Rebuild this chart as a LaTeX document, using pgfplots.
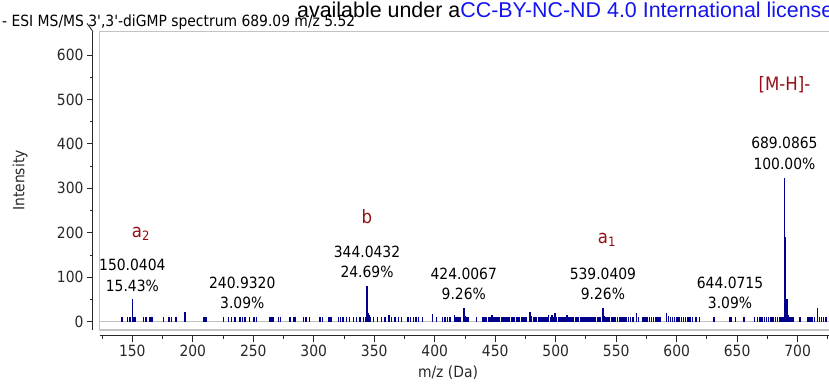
\documentclass[border=0pt]{standalone}
\usepackage{fontspec}
\setmainfont{DejaVu Sans Condensed}
\newfontfamily\arialfont{Liberation Sans}
\usepackage{pgfplots}
\usepackage{pgfplotstable}
\pgfplotsset{compat=1.18}

\definecolor{peak}{RGB}{0,0,140}
\definecolor{ann}{RGB}{150,15,20}
\definecolor{framegray}{RGB}{195,195,195}
\definecolor{ccblue}{RGB}{20,20,240}
\definecolor{axisdark}{RGB}{40,40,40}

\tikzset{
  lbl/.style={anchor=south, align=center, inner sep=0, yshift=8bp,
              font=\fontsize{15.5}{20.5}\selectfont},
  ann/.style={anchor=base, inner sep=0, text=ann,
              font=\fontsize{18.5}{20}\selectfont},
}

% centroided MS/MS peak list: m/z, intensity (counts)
\pgfplotstableread{
mz int
141.7 10
145.9 10
148.1 10
150.04 50
151.4 10
152.2 10
159.1 10
161.3 10
164.6 10
166.5 10
175.6 10
180.3 10
182.5 10
186.1 10
193.6 22
208.8 10
209.6 10
210.4 10
211.3 10
225.2 10
229.4 10
232.2 10
234.9 10
239.0 10
240.93 10
243.2 10
246.7 10
250.6 10
252.8 10
263.8 10
264.8 10
265.7 10
266.6 10
270.7 10
272.6 10
280.4 10
283.1 10
284.5 10
291.4 10
293.6 10
296.3 10
305.2 10
307.4 10
312.0 10
312.9 10
313.9 10
314.8 10
320.3 10
322.0 10
324.2 10
327.1 10
329.4 10
332.8 10
335.2 10
338.4 10
341.0 10
343.1 10
344.04 80
345.0 20
346.0 14
347.1 10
349.2 10
352.5 10
356.1 10
358.9 10
362.2 16
364.4 10
367.1 10
369.9 10
372.6 10
378.1 10
380.1 10
382.3 10
384.5 10
386.4 10
390.0 10
398.3 18
401.6 10
406.6 10
408.5 10
410.4 10
412.6 10
416.2 16
417.6 10
419.3 10
421.0 10
424.01 30
425.1 12
426.5 10
428.0 10
434.7 10
440.0 10
441.5 10
443.0 10
444.3 10
445.6 10
447.2 16
448.4 10
449.7 10
451.0 10
452.3 10
453.6 10
455.0 10
456.4 10
457.8 10
459.1 10
460.5 10
461.9 10
463.3 10
464.7 10
466.0 10
467.4 10
468.8 10
470.2 10
471.6 10
473.0 10
474.5 10
476.0 10
478.7 21
480.1 12
481.5 10
482.9 10
484.3 10
485.7 10
487.1 10
488.5 10
489.9 10
491.3 10
492.7 10
494.1 14
495.5 10
496.9 16
498.3 10
499.4 20
500.8 10
502.2 10
503.6 10
505.0 10
506.4 10
507.8 10
509.2 14
510.6 10
512.0 10
513.4 10
514.8 10
516.2 10
517.6 10
519.0 10
520.4 10
521.8 10
523.2 10
524.6 10
526.0 10
527.4 10
528.8 10
530.2 10
531.6 10
533.0 10
534.4 10
535.8 10
537.2 10
539.04 30
540.3 12
541.7 10
543.1 10
544.5 10
546.0 10
547.5 10
549.0 10
551.0 10
553.0 10
555.0 10
556.5 10
558.2 10
560.0 10
562.0 10
564.0 10
566.9 19
568.3 10
572.0 10
573.8 10
575.6 10
577.4 10
579.2 10
581.0 10
582.8 10
584.6 10
586.4 10
591.7 20
593.1 12
594.8 10
596.6 10
598.4 10
600.2 10
602.0 10
603.8 10
605.6 10
607.4 10
609.2 10
611.0 10
613.0 10
616.0 10
619.0 10
630.3 10
631.3 10
644.07 10
645.5 10
648.6 10
655.5 10
664.2 10
666.6 10
668.9 10
670.7 10
672.5 10
674.3 10
676.1 10
677.9 10
679.7 10
681.5 10
683.3 10
685.2 10
687.0 10
688.1 10
689.09 324
690.09 191
691.09 52
692.1 15
693.2 10
694.6 10
696.1 10
702.0 10
708.6 10
710.2 10
712.0 10
713.8 10
716.2 30
717.9 10
719.7 10
721.5 10
723.3 10
}\spectrum

\begin{document}
\begin{tikzpicture}[x=1bp,y=1bp]
\useasboundingbox (-99.5,-55) rectangle (729.5,330);

% header lines
\node[anchor=base west, inner sep=0, font=\fontsize{15.5}{18}\selectfont]
  at (-97.5,304) {- ESI MS/MS 3\textquotesingle,3\textquotesingle-diGMP spectrum 689.09 m/z 5.52};
\node[anchor=base west, inner sep=0, font=\arialfont\fontsize{21.5}{24}\selectfont]
  at (197.5,312.5) {available under a\textcolor{ccblue}{CC-BY-NC-ND 4.0 International license}};

% spectrum panel
\begin{axis}[
  at={(0,0)}, anchor=south west, scale only axis,
  width=740bp, height=298.3bp,
  xmin=122.9, xmax=734.6, ymin=-18.7, ymax=652.5,
  xtick=\empty, ytick=\empty,
  axis line style={framegray, line width=1.2bp},
  clip=false,
]
\draw[framegray, line width=1bp] (axis cs:122.9,0) -- (axis cs:734.6,0);
\addplot[ycomb, peak, line width=1.5bp, mark=none] table[x=mz, y=int] {\spectrum};

\node[lbl] at (axis cs:150.04,50)   {150.0404\\15.43\%};
\node[lbl] at (axis cs:240.93,10)   {240.9320\\3.09\%};
\node[lbl] at (axis cs:344.04,80)   {344.0432\\24.69\%};
\node[lbl] at (axis cs:424.01,30)   {424.0067\\9.26\%};
\node[lbl] at (axis cs:539.04,30)   {539.0409\\9.26\%};
\node[lbl] at (axis cs:644.07,10)   {644.0715\\3.09\%};
\node[lbl] at (axis cs:689.09,324)  {689.0865\\100.00\%};

\node[ann] at (axis cs:157.2,190.5) {a\textsubscript{2}};
\node[ann] at (axis cs:343.9,222)   {b};
\node[ann] at (axis cs:542.4,176.4) {a\textsubscript{1}};
\node[ann] at (axis cs:689.1,521)   {[M-H]-};
\end{axis}

% intensity axis, set off to the left of the panel
\begin{axis}[
  at={(-6.5bp,0)}, anchor=south west, scale only axis,
  width=10bp, height=298.3bp,
  xmin=0, xmax=1, ymin=-18.7, ymax=652.5,
  axis y line=left, axis x line=none,
  axis line style={-, axisdark, line width=1bp},
  ytick={0,100,...,600}, minor ytick={50,150,...,550},
  tick align=outside, major tick length=6bp, minor tick length=3.3bp,
  every tick/.style={axisdark, line width=0.9bp},
  yticklabel style={font=\fontsize{15.5}{18}\selectfont, text=axisdark},
  /pgf/number format/assume math mode=true,
  clip=false,
]
\draw[axisdark, line width=0.9bp] (rel axis cs:0,1) -- ++(-6bp,0);
\end{axis}

% m/z axis, set off below the panel
\begin{axis}[
  at={(0,-5bp)}, anchor=south west, scale only axis,
  width=740bp, height=10bp,
  xmin=122.9, xmax=734.6, ymin=0, ymax=1,
  axis x line=bottom, axis y line=none,
  axis line style={-, axisdark, line width=1bp},
  xtick={150,200,...,700}, minor xtick={125,175,...,725},
  tick align=outside, major tick length=7bp, minor tick length=4bp,
  every tick/.style={axisdark, line width=0.9bp},
  xticklabel style={font=\fontsize{15.5}{18}\selectfont, text=axisdark},
  /pgf/number format/assume math mode=true,
]
\end{axis}

\node[font=\fontsize{15.5}{18}\selectfont, text=axisdark] at (348.5,-43) {m/z (Da)};
\node[font=\fontsize{15.5}{18}\selectfont, text=axisdark, rotate=90] at (-79.5,149.5) {Intensity};
\end{tikzpicture}
\end{document}
